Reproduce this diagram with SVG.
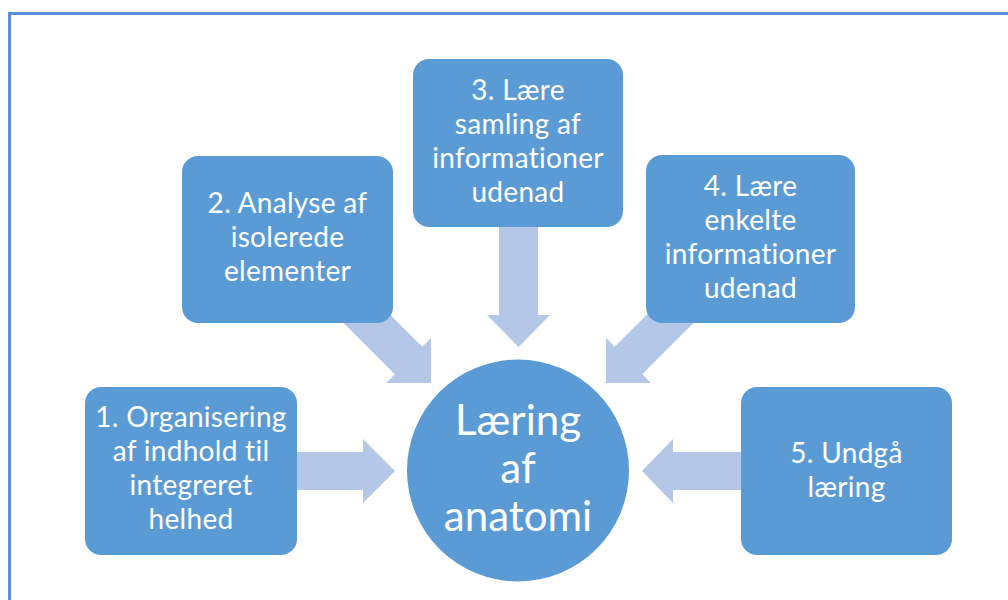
<svg xmlns="http://www.w3.org/2000/svg" width="1008" height="600" viewBox="0 0 1008 600">
<style>
.box{fill:#5B9BD5;}
.arrow{fill:#B4C7E7;}
.t{fill:#FFFFFF;font-family:Lato,"Open Sans","Liberation Sans",sans-serif;font-size:28px;letter-spacing:0.3px;text-anchor:middle;font-variant-ligatures:none;}
.tc{fill:#FFFFFF;font-family:Lato,"Open Sans","Liberation Sans",sans-serif;font-size:42px;text-anchor:middle;font-variant-ligatures:none;}
</style>
<rect x="0" y="0" width="1008" height="600" fill="#FFFFFF"/>
<rect x="9.5" y="13.5" width="1010" height="610" fill="none" stroke="#5B8ED6" stroke-width="3"/>
<g id="connectors">
<polygon class="arrow" points="297,452 363,452 363,439 395,471 363,503 363,490 297,490"/>
<polygon class="arrow" points="362.3,286.7 422.3,346.7 431,338 431,383 386,383 394.7,374.3 334.7,314.3"/>
<polygon class="arrow" points="499,220 538,220 538,315 550,315 518.5,347 487,315 499,315"/>
<polygon class="arrow" points="674.7,286.7 614.7,346.7 606,338 606,383 651,383 642.3,374.3 702.3,314.3"/>
<polygon class="arrow" points="745,452 673,452 673,439 642,471 673,503 673,490 745,490"/>
</g>
<g id="node1">
<rect class="box" x="85" y="387" width="212" height="168" rx="16"/>
<text class="t" x="191" y="427">1. Organisering</text>
<text class="t" x="191" y="461">af indhold til</text>
<text class="t" x="191" y="495">integreret</text>
<text class="t" x="191" y="529">helhed</text>
</g>
<g id="node2">
<rect class="box" x="182" y="156" width="211" height="167" rx="16"/>
<text class="t" x="287.5" y="213">2. Analyse af</text>
<text class="t" x="287.5" y="247">isolerede</text>
<text class="t" x="287.5" y="281">elementer</text>
</g>
<g id="node3">
<rect class="box" x="413" y="59" width="210" height="168" rx="16"/>
<text class="t" x="518" y="100">3. Lære</text>
<text class="t" x="518" y="134">samling af</text>
<text class="t" x="518" y="168">informationer</text>
<text class="t" x="518" y="202">udenad</text>
</g>
<g id="node4">
<rect class="box" x="646" y="155" width="209" height="168" rx="16"/>
<text class="t" x="750.5" y="196">4. Lære</text>
<text class="t" x="750.5" y="230">enkelte</text>
<text class="t" x="750.5" y="264">informationer</text>
<text class="t" x="750.5" y="298">udenad</text>
</g>
<g id="node5">
<rect class="box" x="741" y="387" width="211" height="168" rx="16"/>
<text class="t" x="846.5" y="463">5. Undgå</text>
<text class="t" x="846.5" y="497">læring</text>
</g>
<g id="center">
<circle class="box" cx="518" cy="470.5" r="111"/>
<text class="tc" x="518" y="435">Læring</text>
<text class="tc" x="518" y="483">af</text>
<text class="tc" x="518" y="531">anatomi</text>
</g>
</svg>
